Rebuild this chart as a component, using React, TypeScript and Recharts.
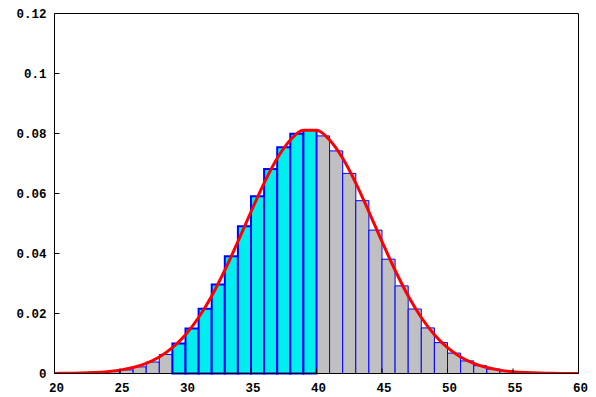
import React from "react";
import { ComposedChart, Line, XAxis, YAxis, ReferenceArea } from "recharts";

// Bars: bar for outcome k spans [k-1, k]
const outcomes = [22, 23, 24, 25, 26, 27, 28, 29, 30, 31, 32, 33, 34, 35, 36, 37, 38, 39, 40, 41, 42, 43, 44, 45, 46, 47, 48, 49, 50, 51, 52, 53, 54, 55, 56, 57, 58];
const probabilities = [
  0.00006, 0.00015, 0.00031, 0.00063, 0.0012, 0.0022, 0.00382, 0.00633, 0.01, 0.015,
  0.0216, 0.0297, 0.0391, 0.0491, 0.0591, 0.0682, 0.0754, 0.0799, 0.0812, 0.0792,
  0.0742, 0.0667, 0.0576, 0.0478, 0.0381, 0.0292, 0.0215, 0.0152, 0.0103, 0.0068,
  0.0042, 0.0026, 0.0015, 0.00083, 0.00044, 0.00023, 0.00011,
];
const shadedFrom = 30;
const shadedTo = 40;

// Smooth density curve
const curveX = [20, 21, 22, 23, 24, 25, 26, 27, 28, 29, 30, 31, 32, 33, 34, 35, 36, 37, 38, 39, 40, 41, 42, 43, 44, 45, 46, 47, 48, 49, 50, 51, 52, 53, 54, 55, 56, 57, 58, 59, 60];
const curveY = [
  0.00003, 0.00008, 0.00016, 0.00032, 0.0006, 0.00112, 0.00198, 0.00336, 0.00548, 0.00859,
  0.01292, 0.01866, 0.02586, 0.03441, 0.04396, 0.05391, 0.06347, 0.07174, 0.07784, 0.08109,
  0.08109, 0.07784, 0.07174, 0.06347, 0.05391, 0.04396, 0.03441, 0.02586, 0.01866, 0.01292,
  0.00859, 0.00548, 0.00336, 0.00198, 0.00112, 0.0006, 0.00032, 0.00016, 0.00008, 0.00003, 0.00002,
];

const xTicks = [20, 25, 30, 35, 40, 45, 50, 55, 60];
const yTicks = [0, 0.02, 0.04, 0.06, 0.08, 0.1, 0.12];

const barData = outcomes.map((k, i) => ({
  k,
  p: probabilities[i],
  shaded: k >= shadedFrom && k <= shadedTo,
}));
const curveData = curveX.map((x, i) => ({ x, y: curveY[i] }));

const W = 596;
const H = 397;
const LEFT = 54.5;
const RIGHT = 17.5;
const TOP = 13.5;
const BOTTOM = 23.5;

const tickFont = {
  fontFamily: "'Liberation Mono', monospace",
  fontWeight: "bold" as const,
  fontSize: 12.5,
  fill: "#000",
};

export default function App() {
  const plain = barData.filter((d) => !d.shaded);
  const shaded = barData.filter((d) => d.shaded);
  return (
    <div style={{ position: "absolute", left: 0, top: 0, width: W, height: H, background: "#fff" }}>
      <ComposedChart
        width={W}
        height={H}
        data={curveData}
        margin={{ top: 0, right: 0, bottom: 0, left: 0 }}
      >
        <XAxis
          xAxisId="b"
          dataKey="x"
          type="number"
          domain={[20, 60]}
          ticks={xTicks}
          interval={0}
          allowDataOverflow
          height={BOTTOM}
          orientation="bottom"
          stroke="#000"
          tickSize={-5}
          tickMargin={15}
          tick={{ ...tickFont, dx: 2 }}
        />
        <XAxis
          xAxisId="t"
          dataKey="x"
          type="number"
          domain={[20, 60]}
          ticks={xTicks}
          interval={0}
          allowDataOverflow
          height={TOP}
          orientation="top"
          stroke="#000"
          tickSize={-5}
          tick={false}
        />
        <YAxis
          yAxisId="l"
          type="number"
          domain={[0, 0.12]}
          ticks={yTicks}
          interval={0}
          allowDataOverflow
          width={LEFT}
          orientation="left"
          stroke="#000"
          tickSize={-5}
          tickMargin={13}
          tick={tickFont}
        />
        <YAxis
          yAxisId="r"
          type="number"
          domain={[0, 0.12]}
          ticks={yTicks}
          interval={0}
          allowDataOverflow
          width={RIGHT}
          orientation="right"
          stroke="#000"
          tickSize={-5}
          tick={false}
        />
        {plain.concat(shaded).map((d) => (
          <ReferenceArea
            key={d.k}
            xAxisId="b"
            yAxisId="l"
            x1={d.k - 1}
            x2={d.k}
            y1={0}
            y2={d.p}
            fill={d.shaded ? "#00eeee" : "#c0c0c0"}
            fillOpacity={1}
            stroke="#0000ff"
            strokeWidth={d.shaded ? 2 : 1}
            ifOverflow="visible"
          />
        ))}
        <Line
          xAxisId="b"
          yAxisId="l"
          dataKey="y"
          type="monotone"
          stroke="#ff0000"
          strokeWidth={3}
          dot={false}
          activeDot={false}
          isAnimationActive={false}
        />
      </ComposedChart>
    </div>
  );
}
